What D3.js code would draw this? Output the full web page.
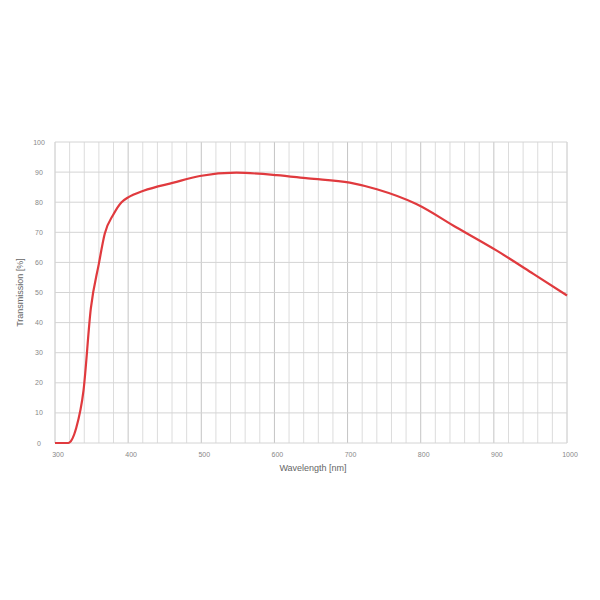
<!DOCTYPE html>
<html><head><meta charset="utf-8">
<script src="https://cdn.jsdelivr.net/npm/d3@7"></script>
<style>body{margin:0;background:#fff}</style>
</head><body>
<script>
const wavelengths = [300, 318, 329, 339, 349, 360, 368, 380, 391, 400, 421, 462, 498, 548, 603, 646, 703, 740, 794, 849, 904, 954, 1000];
const transmission = [0, 0, 5, 17.5, 44.7, 59.6, 69.5, 76, 80, 81.6, 83.8, 86.5, 88.7, 89.8, 89, 87.9, 86.5, 84.3, 79.4, 71.6, 63.9, 56.2, 49];
const xTickLabels = [300, 400, 500, 600, 700, 800, 900, 1000];
const yTickLabels = [0, 10, 20, 30, 40, 50, 60, 70, 80, 90, 100];
const xMinorTicks = d3.range(300, 1001, 20);

(function () {
const W = 600, H = 600;
const mLeft = 55, mRight = 567, mTop = 142, mBottom = 443;
const svg = d3.select("body").append("svg").attr("width", W).attr("height", H);
const x = d3.scaleLinear().domain([300, 1000]).range([mLeft, mRight]);
const y = d3.scaleLinear().domain([0, 100]).range([mBottom, mTop]);

const g = svg.append("g");
g.selectAll(".vg").data(xMinorTicks).enter().append("line")
  .attr("x1", d => x(d)).attr("x2", d => x(d))
  .attr("y1", mTop).attr("y2", mBottom)
  .attr("stroke", d => d % 100 === 0 ? "#c4c4c4" : "#dcdcdc")
  .attr("stroke-width", 1);
g.selectAll(".hg").data(yTickLabels).enter().append("line")
  .attr("x1", mLeft).attr("x2", mRight)
  .attr("y1", d => y(d)).attr("y2", d => y(d))
  .attr("stroke", "#d4d4d4").attr("stroke-width", 1);

svg.selectAll(".yl").data(yTickLabels).enter().append("text")
  .attr("x", 39).attr("y", d => y(d) + 2.5)
  .attr("text-anchor", "middle")
  .attr("font-family", "Arial, Liberation Sans, sans-serif")
  .attr("font-size", 7).attr("fill", "#888")
  .text(d => d);
svg.selectAll(".xl").data(xTickLabels).enter().append("text")
  .attr("x", d => x(d) + 3).attr("y", 457)
  .attr("text-anchor", "middle")
  .attr("font-family", "Arial, Liberation Sans, sans-serif")
  .attr("font-size", 7).attr("fill", "#888")
  .text(d => d);

svg.append("text")
  .attr("x", 313).attr("y", 471)
  .attr("text-anchor", "middle")
  .attr("font-family", "Arial, Liberation Sans, sans-serif")
  .attr("font-size", 9).attr("fill", "#666")
  .text("Wavelength [nm]");
svg.append("text")
  .attr("transform", "translate(23," + ((mTop + mBottom) / 2) + ") rotate(-90)")
  .attr("text-anchor", "middle")
  .attr("font-family", "Arial, Liberation Sans, sans-serif")
  .attr("font-size", 9).attr("fill", "#666")
  .text("Transmission [%]");

const data = wavelengths.map((w, i) => ({w, v: transmission[i]}));
const line = d3.line().x(d => x(d.w)).y(d => y(d.v)).curve(d3.curveMonotoneX);
svg.append("path").datum(data)
  .attr("d", line)
  .attr("fill", "none")
  .attr("stroke", "#e03a3e")
  .attr("stroke-width", 2.2)
  .attr("stroke-linejoin", "round");
})();
</script>
</body></html>
